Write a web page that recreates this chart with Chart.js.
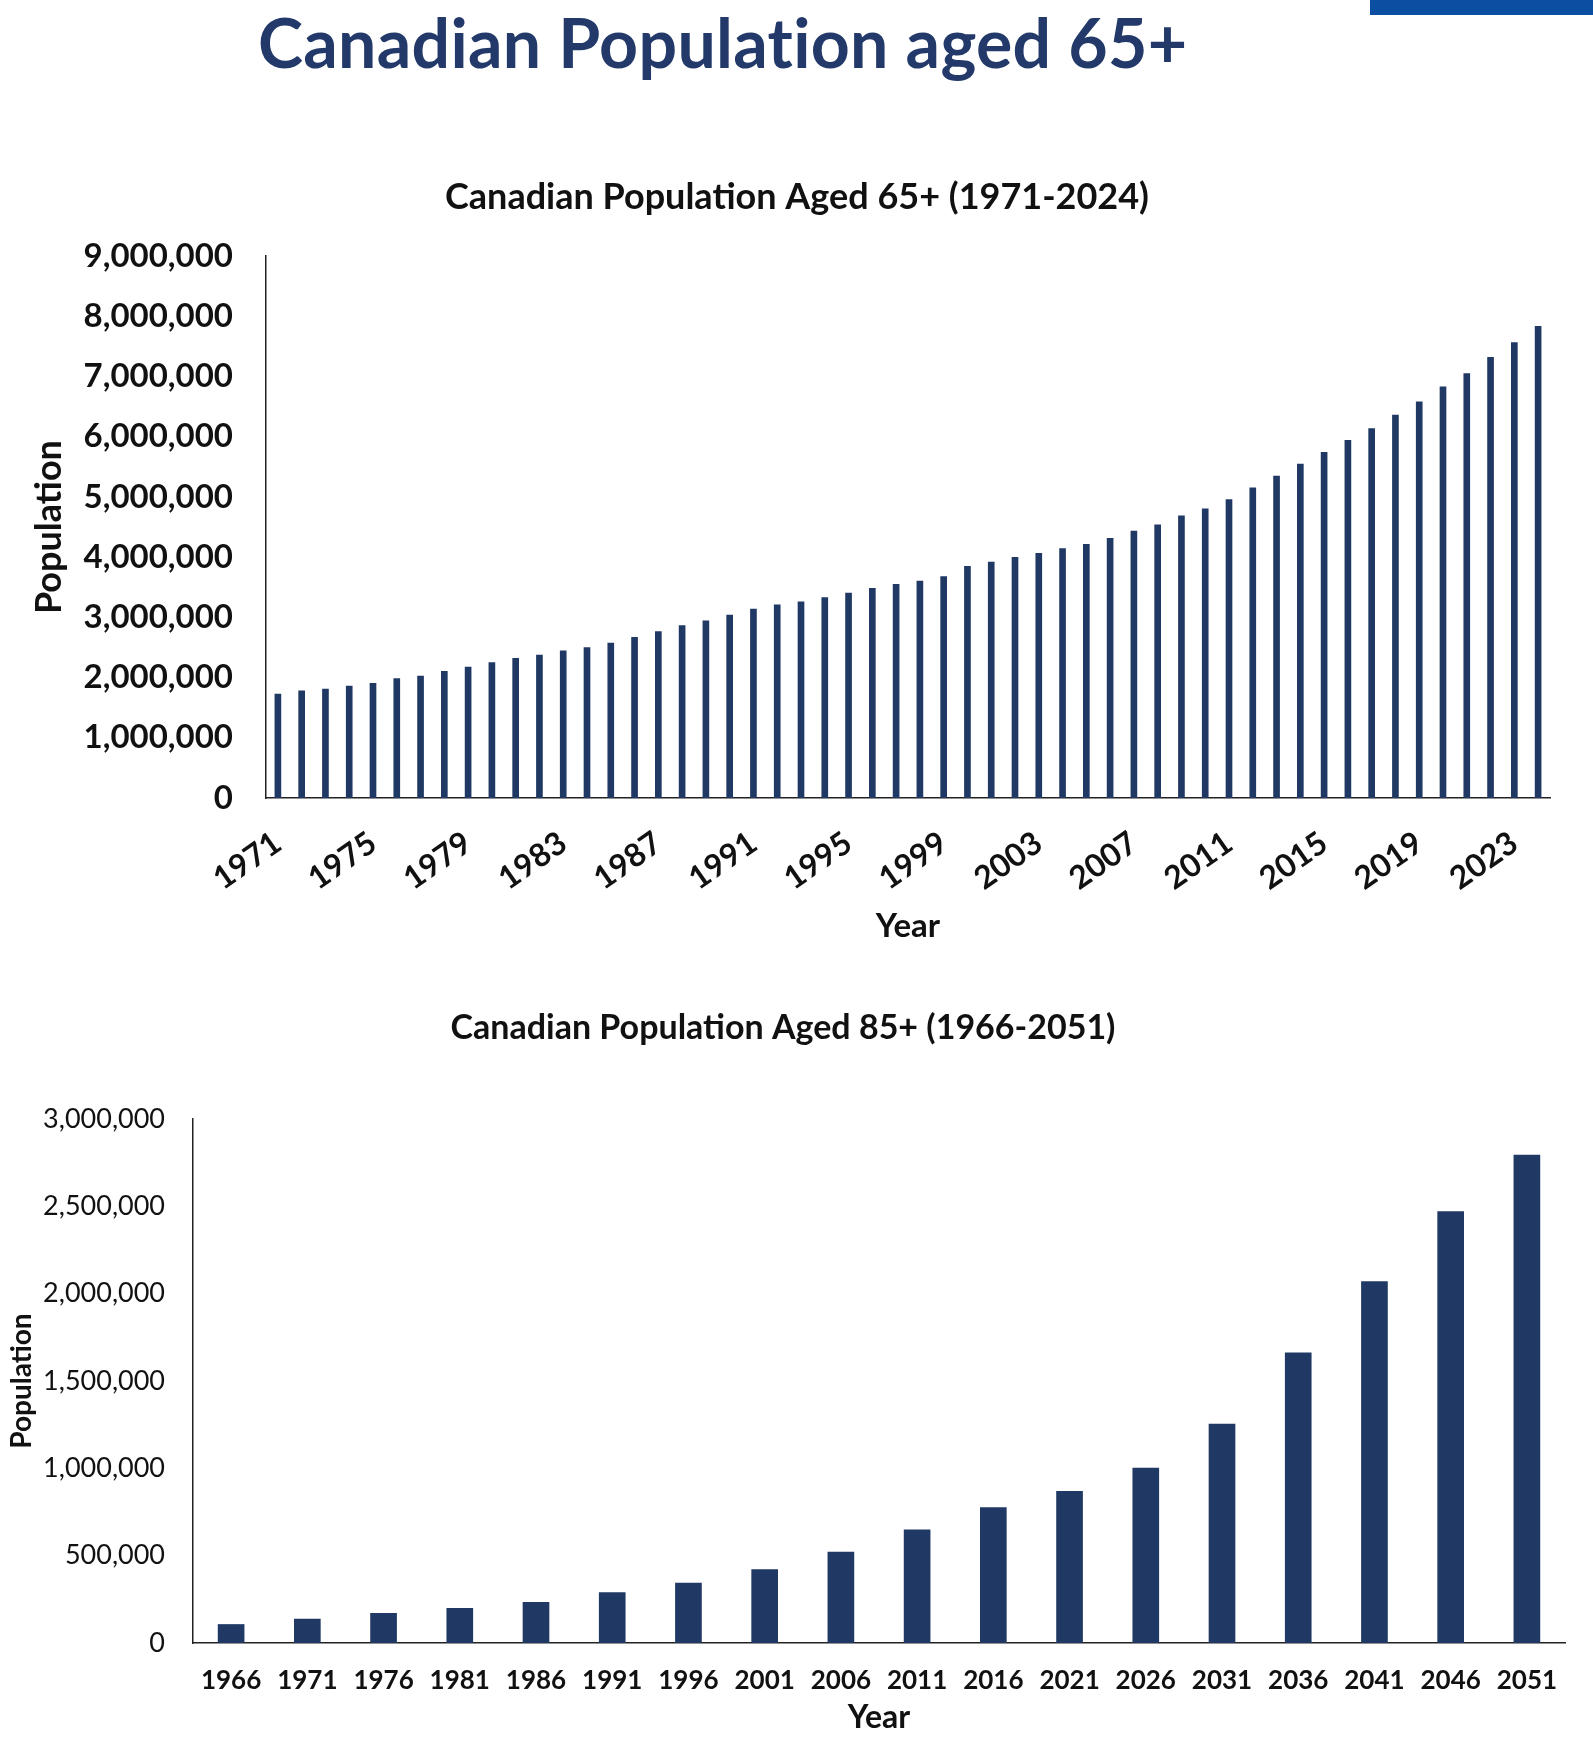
<!DOCTYPE html>
<html>
<head>
<meta charset="utf-8">
<script src="https://cdn.jsdelivr.net/npm/chart.js@4.4.1/dist/chart.umd.min.js"></script>
<style>
  html, body { margin: 0; padding: 0; background: #fff; }
  body { width: 1593px; height: 1758px; position: relative; overflow: hidden; font-family: Lato, 'DejaVu Sans', sans-serif; }
  #page-title { position: absolute; left: 258px; top: 8px; font-weight: 700; font-size: 68px; letter-spacing: 0.3px; line-height: 1; color: #22396a; white-space: nowrap; }
  #corner { position: absolute; right: 0; top: 0; width: 223px; height: 15px; background: #0b4fa3; }
  #c65 { position: absolute; left: 0; top: 150px; }
  #c85 { position: absolute; left: 0; top: 980px; }
</style>
</head>
<body>
<div id="page-title">Canadian Population aged 65+</div>
<div id="corner"></div>
<canvas id="c65" width="1593" height="810"></canvas>
<canvas id="c85" width="1593" height="778"></canvas>
<script>
// Population aged 65+, yearly
const years65 = [
  '1971', '1972', '1973', '1974', '1975', '1976', '1977', '1978', '1979', '1980',
  '1981', '1982', '1983', '1984', '1985', '1986', '1987', '1988', '1989', '1990',
  '1991', '1992', '1993', '1994', '1995', '1996', '1997', '1998', '1999', '2000',
  '2001', '2002', '2003', '2004', '2005', '2006', '2007', '2008', '2009', '2010',
  '2011', '2012', '2013', '2014', '2015', '2016', '2017', '2018', '2019', '2020',
  '2021', '2022', '2023', '2024',
];
const pop65 = [
  1728000, 1779000, 1810000, 1861000, 1906000, 1982000, 2027000, 2103000, 2173000, 2249000,
  2319000, 2376000, 2446000, 2497000, 2573000, 2668000, 2764000, 2865000, 2942000, 3037000,
  3138000, 3208000, 3259000, 3329000, 3405000, 3482000, 3551000, 3602000, 3679000, 3850000,
  3920000, 3996000, 4066000, 4142000, 4212000, 4314000, 4435000, 4536000, 4689000, 4803000,
  4956000, 5152000, 5349000, 5546000, 5743000, 5940000, 6137000, 6360000, 6582000, 6830000,
  7052000, 7319000, 7567000, 7834000,
];
const shownYears65 = ['1971', '1975', '1979', '1983', '1987', '1991', '1995', '1999', '2003', '2007', '2011', '2015', '2019', '2023'];
const ticks65 = [0, 1000000, 2000000, 3000000, 4000000, 5000000, 6000000, 7000000, 8000000, 9000000];

// Population aged 85+, census years + projections
const years85 = ['1966', '1971', '1976', '1981', '1986', '1991', '1996', '2001', '2006', '2011', '2016', '2021', '2026', '2031', '2036', '2041', '2046', '2051'];
const pop85 = [106000, 137000, 170000, 199000, 233000, 288000, 343000, 420000, 521000, 648000, 775000, 869000, 1001000, 1253000, 1661000, 2069000, 2470000, 2794000];
const ticks85 = [0, 500000, 1000000, 1500000, 2000000, 2500000, 3000000];

const NAVY = '#1f3864';
const INK = '#111111';
Chart.defaults.font.family = "Lato, 'DejaVu Sans', sans-serif";
Chart.defaults.color = INK;

const fmt = v => Number(v).toLocaleString('en-US');

// Top chart: 65+
new Chart(document.getElementById('c65'), {
  type: 'bar',
  data: {
    labels: years65,
    datasets: [{ data: pop65, backgroundColor: NAVY, barThickness: 6 }],
  },
  options: {
    responsive: false,
    animation: false,
    layout: { padding: { left: 44, right: 43, top: 0, bottom: 0 } },
    plugins: {
      legend: { display: false },
      tooltip: { enabled: false },
      title: {
        display: true,
        text: 'Canadian Population Aged 65+ (1971-2024)',
        color: INK,
        font: { size: 36, weight: 'bold' },
        padding: { top: 26, bottom: 37 },
      },
    },
    scales: {
      x: {
        grid: { display: false, drawTicks: false },
        border: { display: true, color: '#222', width: 1.5 },
        ticks: {
          autoSkip: false,
          minRotation: 35,
          maxRotation: 35,
          padding: 26,
          color: INK,
          font: { size: 32, weight: 'bold' },
          callback(v) {
            const l = this.getLabelForValue(v);
            return shownYears65.includes(l) ? l : '';
          },
        },
        title: { display: true, text: 'Year', color: INK, font: { size: 33, weight: 'bold' }, padding: { top: 0, bottom: 14 } },
        afterFit: s => { s.height = 162; },
      },
      y: {
        min: 0,
        max: 9000000,
        grid: { display: false, drawTicks: false },
        border: { display: true, color: '#222', width: 1.5 },
        ticks: { padding: 33, color: INK, font: { size: 33, weight: 'bold' }, callback: fmt },
        afterBuildTicks: s => { s.ticks = ticks65.map(v => ({ value: v })); },
        title: { display: true, text: 'Population', color: INK, font: { size: 36, weight: 'bold' }, padding: { top: -16, bottom: 0 } },
        afterFit: s => { s.width = 222; },
      },
    },
  },
});

// Bottom chart: 85+
new Chart(document.getElementById('c85'), {
  type: 'bar',
  data: {
    labels: years85,
    datasets: [{ data: pop85, backgroundColor: NAVY, barThickness: 26 }],
  },
  options: {
    responsive: false,
    animation: false,
    layout: { padding: { left: 1, right: 28, top: 0, bottom: 0 } },
    plugins: {
      legend: { display: false },
      tooltip: { enabled: false },
      title: {
        display: true,
        text: 'Canadian Population Aged 85+ (1966-2051)',
        color: INK,
        font: { size: 34, weight: 'bold' },
        padding: { top: 27.6, bottom: 70.6 },
      },
    },
    scales: {
      x: {
        grid: { display: false, drawTicks: false },
        border: { display: true, color: '#222', width: 1.5 },
        ticks: { autoSkip: false, maxRotation: 0, padding: 22, color: INK, font: { size: 26, weight: 'bold' } },
        title: { display: true, text: 'Year', color: INK, font: { size: 32, weight: 'bold' }, padding: { top: 0, bottom: 21 } },
        afterFit: s => { s.height = 115; },
      },
      y: {
        min: 0,
        max: 3000000,
        grid: { display: false, drawTicks: false },
        border: { display: true, color: '#222', width: 1.5 },
        ticks: { padding: 28, color: INK, font: { size: 27 }, callback: fmt },
        afterBuildTicks: s => { s.ticks = ticks85.map(v => ({ value: v })); },
        title: { display: true, text: 'Population', color: INK, font: { size: 28, weight: 'bold' }, padding: { top: 4, bottom: 0 } },
        afterFit: s => { s.width = 192; },
      },
    },
  },
});
</script>
</body>
</html>
